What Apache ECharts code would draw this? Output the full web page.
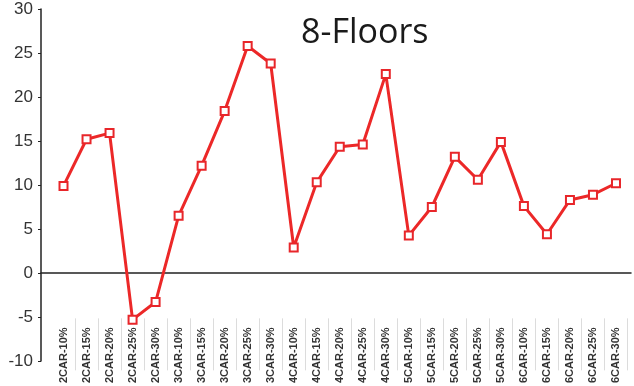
<!DOCTYPE html>
<html>
<head>
<meta charset="utf-8">
<script src="https://cdn.jsdelivr.net/npm/echarts@6/dist/echarts.min.js"></script>
<style>
html,body{margin:0;padding:0;background:#fff;}
#chart{width:634px;height:386px;}
</style>
</head>
<body>
<div id="chart"></div>
<script>
var categories = ["2CAR-10%","2CAR-15%","2CAR-20%","2CAR-25%","2CAR-30%",
  "3CAR-10%","3CAR-15%","3CAR-20%","3CAR-25%","3CAR-30%",
  "4CAR-10%","4CAR-15%","4CAR-20%","4CAR-25%","4CAR-30%",
  "5CAR-10%","5CAR-15%","5CAR-20%","5CAR-25%","5CAR-30%",
  "6CAR-10%","6CAR-15%","6CAR-20%","6CAR-25%","6CAR-30%"];
var values = [9.9, 15.2, 15.9, -5.3, -3.3,
  6.5, 12.2, 18.4, 25.8, 23.8,
  2.9, 10.3, 14.35, 14.6, 22.6,
  4.25, 7.5, 13.2, 10.6, 14.9,
  7.6, 4.4, 8.3, 8.9, 10.2];
var yMin = -10, yMax = 30, yStep = 5;
var titleText = "8-Floors";

var chart = echarts.init(document.getElementById('chart'), null, {renderer: 'canvas'});
chart.setOption({
  animation: false,
  backgroundColor: '#ffffff',
  title: {
    text: titleText,
    left: 296, top: 11,
    textStyle: {fontFamily: 'Open Sans', fontSize: 34, fontWeight: 'normal', color: '#1a1a1a'}
  },
  grid: [
    {left: 41, right: 3, top: 9, bottom: 25},
    {left: 52, right: 6.5, top: 9, bottom: 25},
    {left: 52, right: 6.5, top: 300, bottom: 57}
  ],
  xAxis: [
    {gridIndex: 0, type: 'value', min: 0, max: 1,
      axisLine: {show: true, onZero: true, lineStyle: {color: '#222', width: 1.5}},
      axisTick: {show: false}, axisLabel: {show: false}, splitLine: {show: false}},
    {gridIndex: 1, type: 'category', data: categories, boundaryGap: true, show: false},
    {gridIndex: 2, type: 'category', data: categories, boundaryGap: true, position: 'bottom',
      axisLine: {show: false},
      axisTick: {show: true, length: 52, lineStyle: {color: '#dcdcdc', width: 1},
        interval: function (i) { return i > 0; }},
      axisLabel: {rotate: 90, margin: 9, fontSize: 11, fontWeight: 'bold',
        fontFamily: 'Liberation Sans', color: '#333', interval: 0},
      splitLine: {show: false}}
  ],
  yAxis: [
    {gridIndex: 0, type: 'value', min: yMin, max: yMax, interval: yStep,
      axisLine: {show: true, lineStyle: {color: '#222', width: 1.5}},
      axisTick: {show: true, length: 3, lineStyle: {color: '#222'}},
      axisLabel: {margin: 8, fontSize: 17, fontFamily: 'Liberation Sans', color: '#333'},
      splitLine: {show: false}},
    {gridIndex: 1, type: 'value', min: yMin, max: yMax, interval: yStep, show: false},
    {gridIndex: 2, type: 'value', show: false}
  ],
  series: [{
    type: 'line',
    xAxisIndex: 1, yAxisIndex: 1,
    data: values,
    symbol: 'emptyRect',
    symbolSize: 8,
    lineStyle: {color: '#ec2828', width: 3},
    itemStyle: {color: '#e8262a', borderWidth: 1.5}
  }]
});
</script>
</body>
</html>
